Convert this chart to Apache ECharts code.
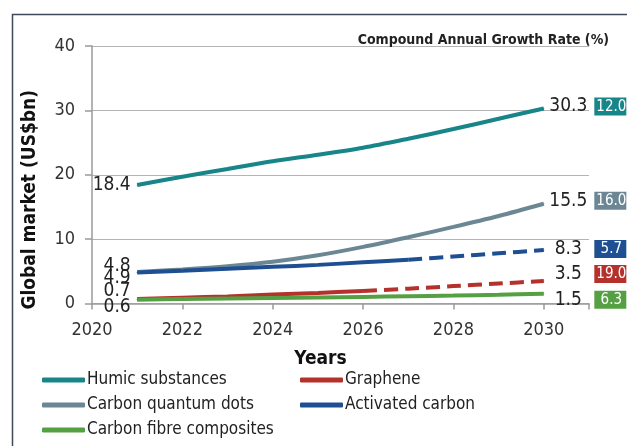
<!DOCTYPE html>
<html>
<head>
<meta charset="utf-8">
<script src="https://cdn.jsdelivr.net/npm/echarts@6/dist/echarts.min.js"></script>
<style>
  html, body { margin: 0; padding: 0; background: #fff; }
  #chart { width: 627px; height: 446px; }
</style>
</head>
<body>
<div id="chart"></div>
<script>
// Global market forecasts for carbon-based materials (US$bn)
var years = [2021, 2022, 2023, 2024, 2025, 2026, 2027, 2028, 2029, 2030];
var humic = [18.4, 19.7, 20.9, 22.1, 23.1, 24.2, 25.6, 27.1, 28.7, 30.3];
var quantumDots = [4.9, 5.3, 5.8, 6.5, 7.5, 8.8, 10.3, 11.9, 13.6, 15.5];
var activatedCarbon = [4.8, 5.1, 5.4, 5.7, 6.0, 6.4, 6.8, 7.3, 7.8, 8.3];
var graphene = [0.7, 0.9, 1.1, 1.4, 1.65, 1.95, 2.3, 2.7, 3.1, 3.5];
var fibreComposites = [0.6, 0.68, 0.76, 0.85, 0.93, 1.02, 1.12, 1.23, 1.36, 1.5];

// Compound annual growth rates (%)
var cagrHumic = '12.0';
var cagrQuantumDots = '16.0';
var cagrActivated = '5.7';
var cagrGraphene = '19.0';
var cagrFibre = '6.3';

// First year drawn dashed (projection) for the split lines
var activatedDashFrom = 2027;
var grapheneDashFrom = 2026;

var xTicks = { min: 2020, max: 2031, interval: 2 };
var yTicks = { min: 0, max: 40, interval: 10 };

var FONT = "'Liberation Sans Narrow', 'DejaVu Sans Condensed', 'Liberation Sans', sans-serif";

var C = {
  humic: '#188589',
  dots: '#6C8794',
  activated: '#1E4F92',
  graphene: '#B5312B',
  fibre: '#56A044'
};

// Vertical nudge of a label: positive moves it down, negative up
function nudge(dy) {
  return dy >= 0 ? [2 * dy, 0, 0, 0] : [0, 0, -2 * dy, 0];
}

function startLabel(dy) {
  return {
    show: true,
    position: 'left',
    distance: 6,
    padding: nudge(dy),
    formatter: function (p) { return '{v|' + p.value[1].toFixed(1) + '}'; },
    rich: {
      v: { fontSize: 19, color: '#222', fontFamily: FONT }
    }
  };
}

function endLabel(color, cagr, dy) {
  return {
    show: true,
    position: 'right',
    distance: 4,
    padding: nudge(dy),
    fontFamily: FONT,
    formatter: function (p) {
      return '{v|' + p.value[1].toFixed(1) + '}{g|}{b|' + cagr + '}';
    },
    rich: {
      v: { width: 40, align: 'right', fontSize: 19, color: '#222', fontFamily: FONT },
      g: { width: 6 },
      b: {
        backgroundColor: color, color: '#fff', fontFamily: FONT, fontSize: 15,
        width: 28, padding: [2, 1, 1, 3], lineHeight: 15
      }
    }
  };
}

// Build [year, value] points, keeping only years in [from, to]; label first/last
function points(values, from, to, first, last) {
  var out = [];
  for (var i = 0; i < years.length; i++) {
    if (years[i] < from || years[i] > to) continue;
    out.push({ value: [years[i], values[i]] });
  }
  if (first) out[0].label = first;
  if (last) out[out.length - 1].label = last;
  return out;
}

function line(name, color, data, dashed) {
  return {
    name: name,
    type: 'line',
    smooth: 0.3,
    symbol: 'circle',
    symbolSize: 1,
    showSymbol: true,
    color: color,
    itemStyle: { color: color },
    lineStyle: { width: 4, color: color, type: dashed ? [14, 7] : 'solid', cap: 'butt' },
    emphasis: { disabled: true },
    label: { show: false },
    labelLayout: { hideOverlap: false },
    data: data,
    z: 3
  };
}

var series = [
  line('Humic substances', C.humic,
    points(humic, 2021, 2030, startLabel(0), endLabel(C.humic, cagrHumic, -2))),
  line('Carbon quantum dots', C.dots,
    points(quantumDots, 2021, 2030, startLabel(6), endLabel(C.dots, cagrQuantumDots, -3))),
  line('Activated carbon', C.activated,
    points(activatedCarbon, 2021, activatedDashFrom, startLabel(-7), null)),
  line('Activated carbon', C.activated,
    points(activatedCarbon, activatedDashFrom, 2030, null, endLabel(C.activated, cagrActivated, -1)), true),
  line('Graphene', C.graphene,
    points(graphene, 2021, grapheneDashFrom, startLabel(-8), null)),
  line('Graphene', C.graphene,
    points(graphene, grapheneDashFrom, 2030, null, endLabel(C.graphene, cagrGraphene, -7)), true),
  line('Carbon fibre composites', C.fibre,
    points(fibreComposites, 2021, 2030, startLabel(7), endLabel(C.fibre, cagrFibre, 6)))
];

var legendText = { color: '#222', fontFamily: FONT, fontSize: 17, lineHeight: 20, padding: [0, 0, 0, -3] };

function legendBlock(left, names) {
  return {
    orient: 'vertical', left: left, top: 370, itemGap: 5, padding: 0,
    itemWidth: 43, itemHeight: 5, icon: 'roundRect',
    itemStyle: { opacity: 1 },
    data: names,
    textStyle: legendText, selectedMode: false
  };
}

var option = {
  animation: false,
  backgroundColor: '#fff',
  textStyle: { fontFamily: FONT },
  title: {
    text: 'Compound Annual Growth Rate (%)',
    right: 13,
    top: 28,
    textStyle: { fontFamily: FONT, fontSize: 14, fontWeight: 'bold', color: '#222' }
  },
  grid: { left: 92, right: 38, top: 46, bottom: 142.5, containLabel: false },
  xAxis: {
    type: 'value',
    min: xTicks.min, max: xTicks.max, interval: xTicks.interval,
    name: 'Years',
    nameLocation: 'middle',
    nameGap: 46,
    nameTextStyle: { fontFamily: FONT, fontSize: 19, fontWeight: 'bold', color: '#111', padding: [0, 40, 0, 0] },
    axisLine: { show: true, lineStyle: { color: '#9a9a9a', width: 1.5 } },
    axisTick: { show: true, length: 6, lineStyle: { color: '#9a9a9a', width: 1.5 } },
    axisLabel: {
      margin: 18, fontSize: 18, color: '#333', fontFamily: FONT,
      formatter: function (v) { return v > 2030 ? '' : String(v); }
    },
    splitLine: { show: false }
  },
  yAxis: {
    type: 'value',
    min: yTicks.min, max: yTicks.max, interval: yTicks.interval,
    name: 'Global market (US$bn)',
    nameLocation: 'middle',
    nameGap: 52,
    nameTextStyle: { fontFamily: FONT, fontSize: 19, fontWeight: 'bold', color: '#111', padding: [0, 50, 0, 0] },
    axisLine: { show: true, lineStyle: { color: '#9a9a9a', width: 1.5 } },
    axisTick: { show: true, length: 7, lineStyle: { color: '#9a9a9a', width: 1.5 } },
    axisLabel: { margin: 17, fontSize: 18, color: '#333', fontFamily: FONT },
    splitLine: { show: true, lineStyle: { color: '#b4b4b4', width: 1 } }
  },
  legend: [
    legendBlock(42, ['Humic substances', 'Carbon quantum dots', 'Carbon fibre composites']),
    legendBlock(300, ['Graphene', 'Activated carbon'])
  ],
  graphic: [
    {
      type: 'polyline',
      shape: { points: [[12.5, 446], [12.5, 14.5], [627, 14.5]] },
      style: { stroke: '#3c4a5a', lineWidth: 1.5, fill: null },
      silent: true
    }
  ],
  series: series
};

var chart = echarts.init(document.getElementById('chart'), null, { renderer: 'canvas' });
chart.setOption(option);
</script>
</body>
</html>
